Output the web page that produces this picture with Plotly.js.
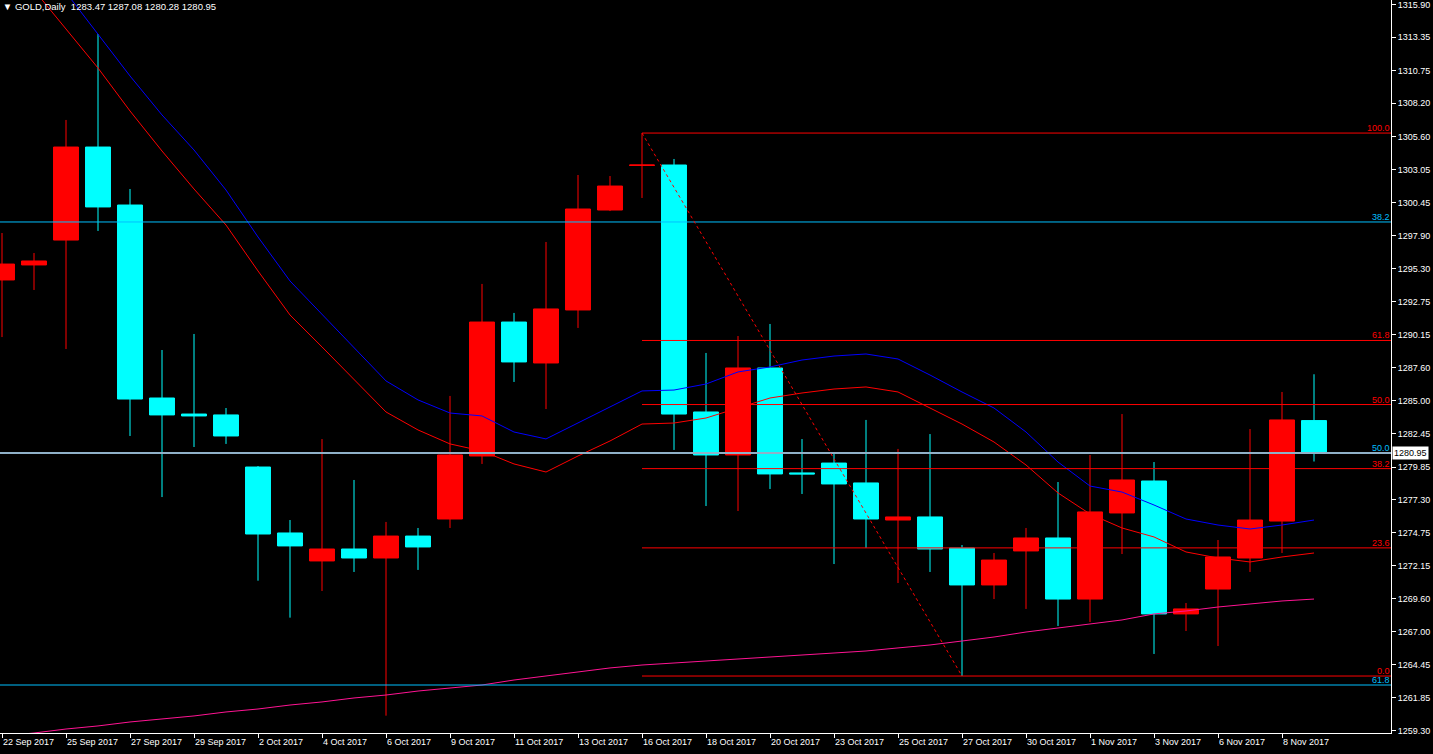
<!DOCTYPE html>
<html>
<head>
<meta charset="utf-8">
<script src="https://cdn.plot.ly/plotly-3.0.1.min.js"></script>
<style>
  html, body { margin: 0; padding: 0; background: #000; }
  #chart { width: 1433px; height: 754px; }
</style>
</head>
<body>
<div id="chart"></div>
<script>
// ---- Data (GOLD, Daily) ----
const dates = [
  '22 Sep 2017','24 Sep 2017','25 Sep 2017','26 Sep 2017','27 Sep 2017','28 Sep 2017','29 Sep 2017',
  '1 Oct 2017','2 Oct 2017','3 Oct 2017','4 Oct 2017','5 Oct 2017','6 Oct 2017',
  '8 Oct 2017','9 Oct 2017','10 Oct 2017','11 Oct 2017','12 Oct 2017','13 Oct 2017',
  '15 Oct 2017','16 Oct 2017','17 Oct 2017','18 Oct 2017','19 Oct 2017','20 Oct 2017',
  '22 Oct 2017','23 Oct 2017','24 Oct 2017','25 Oct 2017','26 Oct 2017','27 Oct 2017',
  '29 Oct 2017','30 Oct 2017','31 Oct 2017','1 Nov 2017','2 Nov 2017','3 Nov 2017',
  '5 Nov 2017','6 Nov 2017','7 Nov 2017','8 Nov 2017','9 Nov 2017'
];
const openP = [
  1294.43,1295.60,1297.54,1304.79,1300.27,1285.23,1283.98,
  1283.91,1279.85,1274.71,1272.53,1273.46,1272.76,
  1274.47,1275.80,1280.71,1291.15,1287.96,1292.09,
  1299.88,1303.35,1303.39,1284.14,1280.79,1287.57,
  1279.39,1280.16,1278.61,1275.72,1275.96,1273.54,
  1270.66,1273.31,1274.32,1269.56,1276.27,1278.76,
  1268.40,1270.34,1272.76,1275.64,1283.47
];
const highP = [
  1298.09,1296.53,1306.90,1313.60,1301.52,1288.97,1290.22,
  1284.45,1279.93,1275.72,1282.03,1278.84,1275.57,
  1275.10,1285.39,1294.12,1291.86,1297.39,1302.61,
  1302.53,1305.88,1303.86,1288.74,1290.06,1291.00,
  1282.03,1280.87,1283.52,1281.26,1282.42,1273.77,
  1273.15,1275.10,1278.68,1280.79,1283.98,1280.24,
  1269.25,1274.16,1282.81,1285.70,1287.08
];
const lowP = [
  1289.98,1293.65,1289.05,1298.25,1282.27,1277.51,1281.41,
  1281.65,1270.99,1268.11,1270.19,1271.67,1260.47,
  1271.83,1275.10,1280.09,1286.48,1284.37,1290.69,
  1299.80,1300.82,1281.18,1276.81,1276.42,1278.14,
  1277.75,1272.29,1273.54,1270.81,1271.67,1263.56,
  1269.56,1268.79,1267.46,1267.77,1273.07,1265.28,
  1267.07,1265.90,1271.67,1273.15,1280.28
];
const closeP = [
  1295.67,1295.91,1304.79,1300.12,1285.15,1283.91,1283.83,
  1282.27,1274.63,1273.70,1273.46,1272.76,1274.47,
  1273.62,1280.79,1291.15,1288.04,1292.17,1299.96,
  1301.75,1303.39,1283.98,1280.79,1287.57,1279.31,
  1279.31,1278.53,1275.80,1275.96,1273.46,1270.66,
  1272.60,1274.32,1269.56,1276.35,1278.84,1268.40,
  1268.79,1272.84,1275.72,1283.52,1280.95
];
// moving averages
const maBlue = [
  1323.34,1320.07,1316.80,1313.60,1310.33,1307.29,1304.56,
  1301.44,1297.78,1294.35,1291.78,1289.21,1286.56,
  1285.08,1284.06,1283.83,1282.58,1282.04,1283.28,
  1284.53,1285.78,1285.85,1286.32,1287.26,1287.65,
  1288.19,1288.50,1288.66,1288.27,1287.02,1285.70,
  1284.45,1282.58,1280.24,1278.37,1277.90,1276.89,
  1275.80,1275.33,1275.02,1275.33,1275.72
];
const maRed = [
  1320.07,1317.03,1313.99,1310.95,1307.60,1304.48,1301.52,
  1298.71,1295.13,1291.70,1289.21,1286.71,1284.14,
  1282.74,1281.65,1281.10,1280.09,1279.46,1280.71,
  1281.88,1283.20,1283.28,1283.67,1284.45,1285.23,
  1285.62,1285.93,1286.09,1285.70,1284.45,1283.20,
  1281.80,1280.01,1277.83,1276.19,1275.10,1274.40,
  1273.23,1272.76,1272.45,1272.84,1273.15
];
const maPink = [
  1258.89,1259.12,1259.43,1259.67,1259.98,1260.21,1260.45,
  1260.76,1260.99,1261.30,1261.54,1261.85,1262.08,
  1262.39,1262.63,1262.86,1263.25,1263.56,1263.88,
  1264.19,1264.42,1264.58,1264.73,1264.89,1265.04,
  1265.20,1265.36,1265.51,1265.75,1265.98,1266.29,
  1266.60,1266.99,1267.30,1267.62,1267.93,1268.40,
  1268.63,1268.94,1269.17,1269.41,1269.56
];
// Fibonacci (red): from 16 Oct high to 27 Oct low
const fibHighBar = 20, fibHighPrice = 1305.88;
const fibLowBar = 30, fibLowPrice = 1263.56;
const fibRatios = [0.0, 0.236, 0.382, 0.5, 0.618, 1.0];
const fibLabels = ['0.0', '23.6', '38.2', '50.0', '61.8', '100.0'];
// Second Fibonacci (blue) levels visible on chart
const blueFibPrices = [1298.95, 1280.94, 1262.86];
const blueFibLabels = ['38.2', '50.0', '61.8'];
// Price / axis
const bidPrice = 1280.95;
const yTicks = [1259.30,1261.85,1264.45,1267.00,1269.60,1272.15,1274.75,1277.30,1279.85,1282.45,
  1285.00,1287.60,1290.15,1292.75,1295.30,1297.90,1300.45,1303.05,1305.60,1308.20,1310.75,1313.35,1315.90];
const titleText = '\u25BC GOLD,Daily\u00a0\u00a01283.47 1287.08 1280.28 1280.95';

// ---- Build ----
const xIdx = dates.map((d, i) => i);
const xTickVals = xIdx.filter(i => i % 2 === 0);
const xTickText = xTickVals.map(i => dates[i]);
const xRange = [-0.0625, 43.40625];
const yRange = [1259.12, 1316.25];
const FONT = '"Liberation Sans", Arial, sans-serif';

const traces = [
  { type: 'scatter', mode: 'lines', x: xIdx, y: maPink, line: { color: '#FF1493', width: 1 }, hoverinfo: 'skip', showlegend: false },
  { type: 'scatter', mode: 'lines', x: xIdx, y: maRed, line: { color: '#FF0000', width: 1 }, hoverinfo: 'skip', showlegend: false },
  { type: 'scatter', mode: 'lines', x: xIdx, y: maBlue, line: { color: '#0000FF', width: 1 }, hoverinfo: 'skip', showlegend: false },
  {
    type: 'candlestick', x: xIdx, open: openP, high: highP, low: lowP, close: closeP,
    increasing: { line: { color: '#FF0000', width: 1 }, fillcolor: '#FF0000' },
    decreasing: { line: { color: '#00FFFF', width: 1 }, fillcolor: '#00FFFF' },
    whiskerwidth: 0, hoverinfo: 'skip', showlegend: false
  }
];

const shapes = [];
const annotations = [];
// blue fib lines
blueFibPrices.forEach((p, k) => {
  shapes.push({ type: 'line', xref: 'paper', yref: 'y', x0: 0, x1: 1, y0: p, y1: p,
    line: { color: k === 1 ? '#8fb0c8' : '#00BFFF', width: k === 1 ? 2 : 1 }, layer: 'above' });
  annotations.push({ xref: 'paper', yref: 'y', x: 1, y: p, xanchor: 'right', yanchor: 'bottom',
    text: blueFibLabels[k], showarrow: false, font: { family: FONT, size: 9, color: '#00BFFF' }, borderpad: 0, yshift: -1 });
});
// red fib lines
fibRatios.forEach((r, k) => {
  const p = fibLowPrice + r * (fibHighPrice - fibLowPrice);
  shapes.push({ type: 'line', xref: 'x', yref: 'y', x0: fibHighBar, x1: xRange[1], y0: p, y1: p,
    line: { color: '#FF0000', width: 1 }, layer: 'above' });
  annotations.push({ xref: 'paper', yref: 'y', x: 1, y: p, xanchor: 'right', yanchor: 'bottom',
    text: fibLabels[k], showarrow: false, font: { family: FONT, size: 9, color: '#FF0000' }, borderpad: 0, yshift: -1 });
});
// fib trend line (dotted)
shapes.push({ type: 'line', xref: 'x', yref: 'y', x0: fibHighBar, y0: fibHighPrice, x1: fibLowBar, y1: fibLowPrice,
  line: { color: '#FF0000', width: 1, dash: 'dot' }, layer: 'above' });
// current price label on axis
annotations.push({ xref: 'paper', yref: 'y', x: 1, y: bidPrice, xanchor: 'left', yanchor: 'middle',
  text: bidPrice.toFixed(2), showarrow: false, bgcolor: '#FFFFFF', borderpad: 1, xshift: 1,
  font: { family: FONT, size: 9, color: '#000000' } });

const layout = {
  width: 1433, height: 754,
  paper_bgcolor: '#000000', plot_bgcolor: '#000000',
  margin: { l: 0, r: 42, t: 0, b: 21, pad: 0 },
  showlegend: false,
  hovermode: false,
  boxgap: 0.22,
  boxgroupgap: 0,
  title: { text: titleText, x: 0.002, xanchor: 'left', xref: 'container', y: 0.991, yanchor: 'middle', yref: 'container',
    font: { family: FONT, size: 9.5, color: '#FFFFFF' } },
  xaxis: {
    type: 'linear', range: xRange, rangeslider: { visible: false },
    tickmode: 'array', tickvals: xTickVals, ticktext: xTickText,
    ticks: 'outside', ticklen: 4, tickcolor: '#FFFFFF', tickwidth: 1,
    ticklabelposition: 'outside right', ticklabeloverflow: 'allow',
    showline: true, linecolor: '#FFFFFF', linewidth: 1,
    showgrid: false, zeroline: false, automargin: false, fixedrange: true,
    tickfont: { family: FONT, size: 9, color: '#FFFFFF' }
  },
  yaxis: {
    side: 'right', range: yRange,
    tickmode: 'array', tickvals: yTicks, ticktext: yTicks.map(v => v.toFixed(2)),
    ticks: 'outside', ticklen: 4, tickcolor: '#FFFFFF', tickwidth: 1,
    ticklabeloverflow: 'allow',
    showline: true, linecolor: '#FFFFFF', linewidth: 1,
    showgrid: false, zeroline: false, automargin: false, fixedrange: true,
    tickfont: { family: FONT, size: 9, color: '#FFFFFF' }
  },
  shapes: shapes,
  annotations: annotations
};

Plotly.newPlot('chart', traces, layout, { displayModeBar: false, staticPlot: true });
</script>
</body>
</html>
